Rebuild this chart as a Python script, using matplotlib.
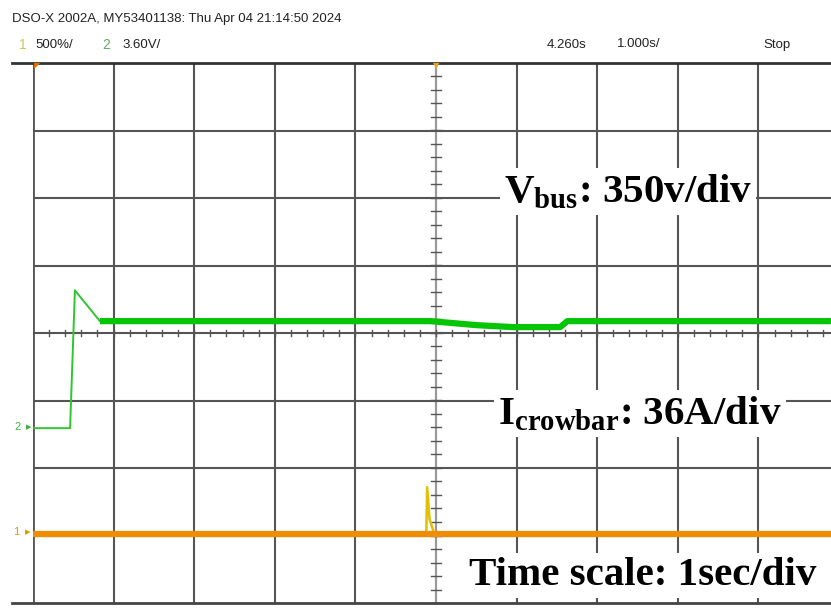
import numpy as np
import matplotlib.pyplot as plt
from matplotlib.lines import Line2D

plt.rcParams['mathtext.fontset'] = 'custom'
plt.rcParams['mathtext.rm'] = 'Liberation Serif'
plt.rcParams['mathtext.bf'] = 'Liberation Serif:bold'

# Vbus trace (channel 2), time in s relative to trigger, volts
t_vbus = [-5.0, -4.54, -4.48, -4.17, -0.07, 0.51, 0.96, 1.54, 1.63, 4.9]
vbus = [0, 0, 715, 555, 555, 534, 524, 524, 555, 555]

# crowbar current (channel 1), amps
t_icb = [-5.0, -0.12, -0.11, -0.08, -0.02, 4.9]
icb = [0, 0, 25, 8, 0, 0]

v_div = 350.0
i_div = 36.0
v_gnd = -1.41   # ground marker positions, in divisions
i_gnd = -2.98

W, H = 831, 610
fig = plt.figure(figsize=(W/100, H/100), dpi=100)
ax = fig.add_axes([33/W, 7/H, (W-33)/W, 540/H])
ax.set_xlim(-5, -5 + 798/80.6)
ax.set_ylim(-4, 4)
for s in ax.spines.values():
    s.set_visible(False)
ax.set_xticks([])
ax.set_yticks([])

gc = '#555555'
for k in range(-5, 5):
    if k == 0:
        ax.axvline(k, color='#9a9a9a', lw=1.6, zorder=1)
    else:
        ax.axvline(k, color=gc, lw=1.5 if k != -5 else 2, zorder=1)
for k in range(-3, 4):
    ax.axhline(k, color=gc, lw=1.5, zorder=1)
# minor ticks on centre lines
for xm in np.arange(-5, 5, 0.2):
    ax.plot([xm, xm], [-0.05, 0.05], color=gc, lw=1, zorder=1)
for ym in np.arange(-4, 4, 0.2):
    ax.plot([-0.06, 0.06], [ym, ym], color=gc, lw=1, zorder=1)

tv = np.array(t_vbus)
yv = np.array(vbus) / v_div + v_gnd
ax.plot(tv, yv, color='#2ec52e', lw=1.4, zorder=3)
ax.plot(tv[3:], yv[3:], color='#06c406', lw=4.5, zorder=3, solid_capstyle='butt')

ti = np.array(t_icb)
yi = np.array(icb) / i_div + i_gnd
ax.plot(ti, yi, color='#e0c000', lw=1.8, zorder=3)
ax.plot([ti[0], ti[-1]], [yi[0], yi[-1]], color='#f08c00', lw=4.5, zorder=4, solid_capstyle='butt')

# frame lines
fig.add_artist(Line2D([12/W, 1], [1-63/H, 1-63/H], color='#333333', lw=2))
fig.add_artist(Line2D([12/W, 1], [1-603/H, 1-603/H], color='#444444', lw=2))

# header
hf = ['Liberation Sans', 'DejaVu Sans']
hk = dict(family=hf, fontsize=9.5, va='center', color='#222222')
fig.text(12/W, 1-19/H, 'DSO-X 2002A, MY53401138: Thu Apr 04 21:14:50 2024', **hk)
fig.text(19/W, 1-45/H, '1', family=hf, fontsize=10, va='center', color='#c8c860')
fig.text(35/W, 1-45/H, '500%/', **hk)
fig.text(102/W, 1-45/H, '2', family=hf, fontsize=10, va='center', color='#60b060')
fig.text(122/W, 1-45/H, '3.60V/', **hk)
fig.text(547/W, 1-45/H, '4.260s', **hk)
fig.text(617/W, 1-44/H, '1.000s/', **hk)
fig.text(763/W, 1-45/H, 'Stop', **hk)

# channel / trigger markers
fig.text(14/W, 1-427/H, '2', family=hf, fontsize=8, va='center', color='#40b040')
fig.text(26/W, 1-427/H, '\u25b8', fontsize=8, va='center', color='#40b040')
fig.text(13/W, 1-532/H, '1', family=hf, fontsize=8, va='center', color='#d0a000')
fig.text(25/W, 1-532/H, '\u25b8', fontsize=8, va='center', color='#d0a000')
fig.text(436/W, 1-66/H, '\u25bc', fontsize=6, ha='center', va='center', color='#e8a030')
fig.text(37/W, 1-66/H, '\u25e4', fontsize=6, ha='center', va='center', color='#e07000')

# annotations
bb = dict(facecolor='white', edgecolor='none', pad=3)
lab = dict(fontsize=29.5, family='Liberation Serif', weight='bold', va='baseline', zorder=5, bbox=bb)
fig.text(504/W, 1-202/H, r'$\mathbf{V}_{\mathbf{bus}}$: 350v/div', **lab)
fig.text(498/W, 1-424/H, r'$\mathbf{I}_{\mathbf{crowbar}}$: 36A/div', **lab)
fig.text(469/W, 1-585/H, 'Time scale: 1sec/div', **lab)

fig.savefig('out.png', dpi=100, facecolor='white')
